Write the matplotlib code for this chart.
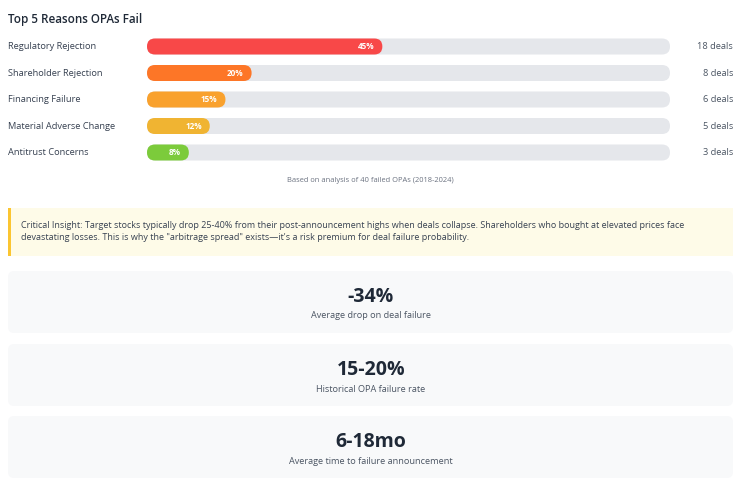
import matplotlib
matplotlib.use("Agg")
import matplotlib.pyplot as plt
from matplotlib.patches import FancyBboxPatch, Rectangle

plt.rcParams['font.family'] = ['Open Sans', 'DejaVu Sans']

# Data
reasons = ['Regulatory Rejection', 'Shareholder Rejection', 'Financing Failure',
           'Material Adverse Change', 'Antitrust Concerns']
percents = [45, 20, 15, 12, 8]
deals = [18, 8, 6, 5, 3]
bar_colors = ['#f84848', '#fd7627', '#f9a12d', '#f0b432', '#7ccb3b']

stat_values = ['-34%', '15-20%', '6-18mo']
stat_labels = ['Average drop on deal failure', 'Historical OPA failure rate',
               'Average time to failure announcement']

title = 'Top 5 Reasons OPAs Fail'
footnote = 'Based on analysis of 40 failed OPAs (2018-2024)'
insight = ('Critical Insight: Target stocks typically drop 25-40% from their post-announcement highs when deals '
           'collapse. Shareholders who bought at elevated prices face\n'
           'devastating losses. This is why the "arbitrage spread" exists\u2014it\'s a risk premium for deal '
           'failure probability.')

# Layout (pixels)
W, H = 751, 491
track_x0, track_x1 = 147, 670
row_y0, row_step, bar_h = 46.5, 26.5, 16

fig = plt.figure(figsize=(W / 100, H / 100), dpi=100)
ax = fig.add_axes([0, 0, 1, 1])
ax.set_xlim(0, W)
ax.set_ylim(H, 0)
ax.axis('off')

ax.text(8, 19, title, fontsize=8.4, fontweight='semibold', color='#1f2937', va='center', ha='left')

track_w = track_x1 - track_x0
for i, (name, pct, n, col) in enumerate(zip(reasons, percents, deals, bar_colors)):
    yc = row_y0 + i * row_step
    ax.text(8, yc, name, fontsize=6.7, color='#374151', va='center', ha='left')
    ax.add_patch(FancyBboxPatch((track_x0, yc - bar_h / 2), track_w, bar_h,
                                boxstyle='round,pad=0,rounding_size=8',
                                facecolor='#e5e7eb', edgecolor='none'))
    fill_w = track_w * pct / 100
    ax.add_patch(FancyBboxPatch((track_x0, yc - bar_h / 2), fill_w, bar_h,
                                boxstyle='round,pad=0,rounding_size=8',
                                facecolor=col, edgecolor='none'))
    ax.text(track_x0 + fill_w - 8, yc, f'{pct}%', fontsize=5.9, fontweight='bold',
            color='white', va='center', ha='right')
    ax.text(733, yc, f'{n} deals', fontsize=6.7, color='#4b5563', va='center', ha='right')

ax.text(370, 181, footnote, fontsize=5.4, color='#6b7280', va='center', ha='center')

# Insight box
ax.add_patch(Rectangle((8, 208), 725, 48, facecolor='#fefbe8', edgecolor='none'))
ax.add_patch(Rectangle((8, 208), 2.5, 48, facecolor='#fbc531', edgecolor='none'))
ax.text(21, 231.5, insight, fontsize=6.45, color='#374151', va='center', ha='left', linespacing=1.42)

# Stat cards
card_tops = [271, 344, 416]
for top, val, lab in zip(card_tops, stat_values, stat_labels):
    ax.add_patch(FancyBboxPatch((8, top), 725, 62, boxstyle='round,pad=0,rounding_size=6',
                                facecolor='#f8f9fa', edgecolor='none'))
    ax.text(371, top + 26, val, fontsize=14, fontweight='bold', color='#1f2937',
            va='center', ha='center')
    ax.text(371, top + 45, lab, fontsize=6.6, color='#4b5563', va='center', ha='center')

fig.savefig('out.png', dpi=100, facecolor='white')
